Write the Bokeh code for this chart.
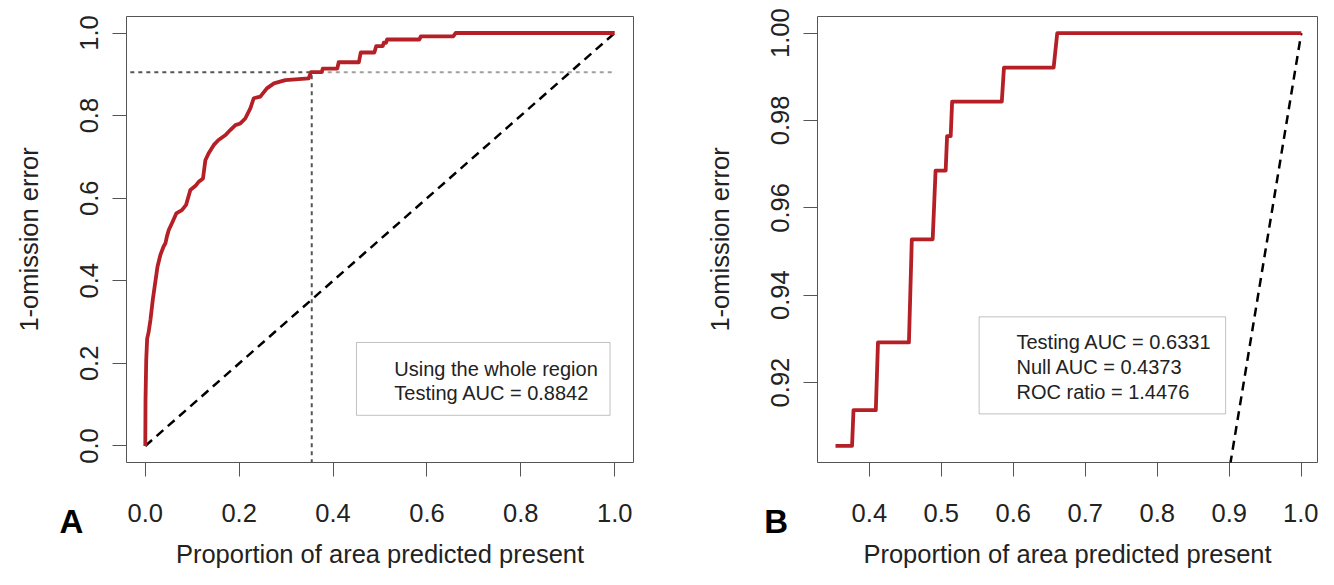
from bokeh.plotting import figure
from bokeh.layouts import row
from bokeh.models import (FixedTicker, PrintfTickFormatter, BoxAnnotation, Label, Range1d,
                          LinearAxis)
from bokeh.embed import file_html
from bokeh.resources import INLINE

# ---------------- data ----------------
# Panel A: ROC curve, whole region
roc_a_x = [0.0, 0.0005, 0.002, 0.004, 0.007, 0.011, 0.016, 0.021, 0.026, 0.032, 0.039, 0.043,
           0.046, 0.050, 0.057, 0.066, 0.078, 0.087, 0.096, 0.107, 0.114, 0.123, 0.128, 0.135,
           0.146, 0.156, 0.171, 0.181, 0.192, 0.2025, 0.213, 0.224, 0.231, 0.245, 0.259, 0.274,
           0.2985, 0.348, 0.353, 0.376, 0.378, 0.409, 0.412, 0.455, 0.459, 0.488, 0.490, 0.492,
           0.506, 0.508, 0.513, 0.515, 0.584, 0.587, 0.656, 0.661, 1.0]
roc_a_y = [0.0, 0.111, 0.208, 0.260, 0.275, 0.305, 0.354, 0.394, 0.434, 0.462, 0.483, 0.491,
           0.507, 0.523, 0.540, 0.563, 0.571, 0.584, 0.620, 0.630, 0.640, 0.648, 0.692, 0.709,
           0.729, 0.741, 0.753, 0.765, 0.777, 0.781, 0.793, 0.818, 0.842, 0.846, 0.866, 0.878,
           0.886, 0.890, 0.9055, 0.9055, 0.9137, 0.9137, 0.9292, 0.9292, 0.9528, 0.9528, 0.9606, 0.9685,
           0.9685, 0.9764, 0.9764, 0.9843, 0.9843, 0.9921, 0.9921, 1.0, 1.0]

# Panel B: ROC curve, restricted region
roc_b_x = [0.353, 0.376, 0.378, 0.409, 0.412, 0.455, 0.459, 0.488, 0.490, 0.492, 0.506, 0.508,
           0.513, 0.515, 0.584, 0.587, 0.656, 0.661, 1.0]
roc_b_y = [0.9055, 0.9055, 0.9137, 0.9137, 0.9292, 0.9292, 0.9528, 0.9528, 0.9606, 0.9685, 0.9685,
           0.9764, 0.9764, 0.9843, 0.9843, 0.9921, 0.9921, 1.0, 1.0]

null_x = [0.0, 1.0]
null_y = [0.0, 1.0]

threshold_area = 0.3546
threshold_sens = 0.905

xticks_a = [0.0, 0.2, 0.4, 0.6, 0.8, 1.0]
yticks_a = [0.0, 0.2, 0.4, 0.6, 0.8, 1.0]
xticks_b = [0.4, 0.5, 0.6, 0.7, 0.8, 0.9, 1.0]
yticks_b = [0.92, 0.94, 0.96, 0.98, 1.00]

text_a = ["Using the whole region", "Testing AUC = 0.8842"]
text_b = ["Testing AUC = 0.6331", "Null AUC = 0.4373", "ROC ratio = 1.4476"]

panel_letters = ["A", "B"]
x_title = "Proportion of area predicted present"
y_title = "1-omission error"

# ---------------- style ----------------
FONT = "Liberation Sans"
RED = "#b51f26"
TXT = "#222222"
FRAME = "#555555"
FS = "25.5px"
NBSP = "\u00a0"


def style(p, xt, yt, xfmt, yfmt):
    p.outline_line_color = FRAME
    p.outline_line_width = 1
    p.xgrid.visible = False
    p.ygrid.visible = False
    for ax, ticks, fmt in ((p.xaxis[0], xt, xfmt), (p.yaxis[0], yt, yfmt)):
        ax.ticker = FixedTicker(ticks=ticks)
        ax.formatter = PrintfTickFormatter(format=fmt)
        ax.minor_tick_line_color = None
        ax.axis_line_color = None
        ax.major_tick_line_color = FRAME
        ax.major_tick_line_width = 1
        ax.major_tick_out = 14
        ax.major_tick_in = 0
        ax.major_label_text_font = FONT
        ax.major_label_text_font_size = FS
        ax.major_label_text_color = TXT
        ax.axis_label_text_font = FONT
        ax.axis_label_text_font_size = FS
        ax.axis_label_text_font_style = "normal"
        ax.axis_label_text_color = TXT
    p.yaxis.axis_label = y_title
    p.xaxis.major_label_standoff = 27
    p.yaxis.major_label_standoff = 14
    p.yaxis.major_label_orientation = "vertical"
    p.yaxis.axis_label_standoff = 35


def letter_axis(p, letter, pad):
    # second bottom axis: carries the bold panel letter (one tick at the frame's left edge)
    # and the x-axis title
    p.extra_x_ranges = {"letter": Range1d(0, 1)}
    ax = LinearAxis(x_range_name="letter", ticker=FixedTicker(ticks=[0]),
                    major_label_overrides={0: letter + NBSP * pad})
    ax.axis_line_color = None
    ax.major_tick_line_color = None
    ax.minor_tick_line_color = None
    ax.major_tick_out = 0
    ax.major_tick_in = 0
    ax.major_label_standoff = -22
    ax.major_label_text_font = FONT
    ax.major_label_text_font_size = "33px"
    ax.major_label_text_font_style = "bold"
    ax.major_label_text_color = "black"
    ax.axis_label = x_title
    ax.axis_label_standoff = -3
    ax.axis_label_text_font = FONT
    ax.axis_label_text_font_size = FS
    ax.axis_label_text_font_style = "normal"
    ax.axis_label_text_color = TXT
    p.add_layout(ax, "below")


# ---------------- panel A ----------------
pa = figure(frame_width=507, frame_height=446, output_backend="svg", toolbar_location=None,
            x_range=Range1d(-0.04, 1.04), y_range=Range1d(-0.04, 1.04),
            min_border_left=126, min_border_right=63, min_border_top=16, min_border_bottom=107)
style(pa, xticks_a, yticks_a, "%.1f", "%.1f")
letter_axis(pa, panel_letters[0], 12)

pa.line(null_x, null_y, line_color="black", line_width=2.5, line_dash="9 6")
pa.line([-0.1, threshold_area], [threshold_sens, threshold_sens], line_color="#555555",
        line_width=2, line_dash="4 4")
pa.line([threshold_area, 1.0], [threshold_sens, threshold_sens], line_color="#a0a0a0",
        line_width=2, line_dash="4 4")
pa.line([threshold_area, threshold_area], [-0.1, threshold_sens], line_color="#555555",
        line_width=2, line_dash="4 4")
pa.line(roc_a_x, roc_a_y, line_color=RED, line_width=3.8, line_join="round")

pa.add_layout(BoxAnnotation(left=0.4499, right=0.990, bottom=0.0743, top=0.2506,
                            fill_color=None, line_color="#333333", line_width=1))
for i, t in enumerate(text_a):
    pa.add_layout(Label(x=0.5305, y=0.1872 - i * 0.0577, text=t, text_font=FONT,
                        text_font_size="20px", text_color=TXT, text_baseline="middle",
                        text_align="left"))

# ---------------- panel B ----------------
pb = figure(frame_width=500, frame_height=446, output_backend="svg", toolbar_location=None,
            x_range=Range1d(0.328, 1.0225), y_range=Range1d(0.9017, 1.0038),
            min_border_left=121, min_border_right=1, min_border_top=16, min_border_bottom=107)
style(pb, xticks_b, yticks_b, "%.1f", "%.2f")
letter_axis(pb, panel_letters[1], 9)

pb.line(null_x, null_y, line_color="black", line_width=2.5, line_dash="9 6")
pb.line(roc_b_x, roc_b_y, line_color=RED, line_width=3.8, line_join="round")

pb.add_layout(BoxAnnotation(left=0.5525, right=0.8949, bottom=0.91283, top=0.93504,
                            fill_color=None, line_color="#333333", line_width=1))
for i, t in enumerate(text_b):
    pb.add_layout(Label(x=0.6044, y=0.92921 - i * 0.005645, text=t, text_font=FONT,
                        text_font_size="20px", text_color=TXT, text_baseline="middle",
                        text_align="left"))

layout = row(pa, pb, spacing=0)
open("out.html", "w").write(file_html(layout, INLINE))
